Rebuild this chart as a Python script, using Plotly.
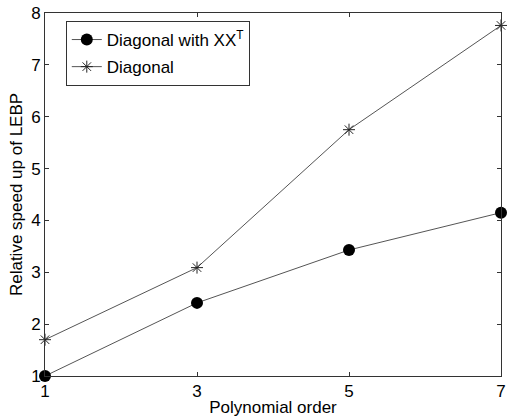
import plotly.graph_objects as go

order = [1, 3, 5, 7]
diag_xxt = [1.0, 2.41, 3.43, 4.15]
diag = [1.7, 3.09, 5.75, 7.76]
x_ticks = [1, 3, 5, 7]
y_ticks = [1, 2, 3, 4, 5, 6, 7, 8]

FONT = "Liberation Sans, Arial, Helvetica, sans-serif"
FS = 17

fig = go.Figure()
fig.add_trace(go.Scatter(
    x=order, y=diag_xxt, mode="lines+markers",
    name="Diagonal with XX<sup>T</sup>", legendgroup="a",
    line=dict(color="#555", width=1),
    marker=dict(symbol="circle", size=12, color="black"),
    cliponaxis=False,
))
fig.add_trace(go.Scatter(
    x=order, y=diag, mode="lines+markers",
    name="Diagonal", legendgroup="b",
    line=dict(color="#555", width=1),
    marker=dict(symbol="asterisk-open", size=10, color="#222",
                line=dict(color="#222", width=1)),
    cliponaxis=False,
))

axis_common = dict(
    showgrid=False, zeroline=False, showline=True, linecolor="#333", linewidth=1,
    mirror="allticks", ticks="inside", ticklen=4, tickcolor="#333",
    tickfont=dict(size=FS, color="black", family=FONT),
    ticklabeloverflow="allow",
)

fig.update_layout(
    width=510, height=419,
    margin=dict(l=45, r=4, t=13, b=43),
    paper_bgcolor="white", plot_bgcolor="white",
    font=dict(family=FONT, color="black", size=FS),
    showlegend=True,
    legend=dict(
        x=0.0456, y=0.978, xanchor="left", yanchor="top",
        bgcolor="white", bordercolor="#333", borderwidth=1,
        font=dict(size=FS, family=FONT, color="black"),
        tracegroupgap=2, entrywidth=160, entrywidthmode="pixels",
    ),
    xaxis=dict(range=[1, 7], tickvals=x_ticks, ticktext=[str(v) for v in x_ticks],
               title=dict(text="Polynomial order", font=dict(size=FS), standoff=0),
               **axis_common),
    yaxis=dict(range=[1, 8], tickvals=y_ticks, ticktext=[str(v) for v in y_ticks],
               title=dict(text="Relative speed up of LEBP", font=dict(size=FS), standoff=4),
               **axis_common),
)

fig.write_html("out.html")
